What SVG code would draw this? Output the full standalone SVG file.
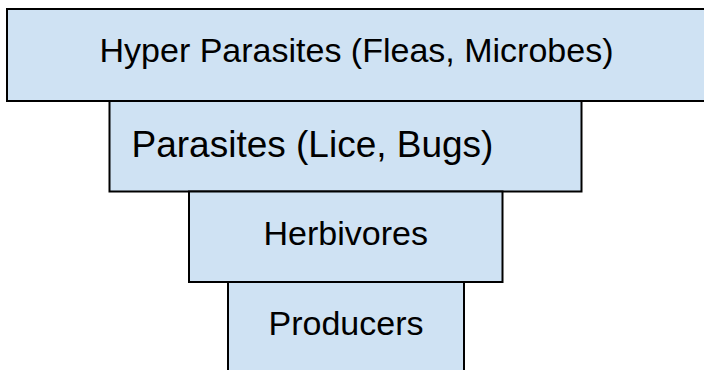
<svg xmlns="http://www.w3.org/2000/svg" width="704" height="370" viewBox="0 0 704 370">
<style>
.box{fill:#cfe2f3;stroke:#000;stroke-width:2}
.lbl{font-family:"Liberation Sans",Arial,sans-serif;fill:#000}
</style>
<rect x="0" y="0" width="704" height="370" fill="#fff"/>
<g id="hyper-parasites">
<rect class="box" x="7" y="9" width="700" height="92"/>
<text class="lbl" x="356.5" y="61.7" font-size="34" text-anchor="middle">Hyper Parasites (Fleas, Microbes)</text>
</g>
<g id="parasites">
<rect class="box" x="109.5" y="101" width="472" height="90.5"/>
<text class="lbl" x="131.5" y="156.5" font-size="37">Parasites (Lice, Bugs)</text>
</g>
<g id="herbivores">
<rect class="box" x="189" y="191.5" width="313.5" height="90.5"/>
<text class="lbl" x="345.7" y="245" font-size="34" text-anchor="middle">Herbivores</text>
</g>
<g id="producers">
<rect class="box" x="228" y="282" width="236" height="100"/>
<text class="lbl" x="346" y="335" font-size="34" text-anchor="middle">Producers</text>
</g>
<g id="connectors"></g>
</svg>
